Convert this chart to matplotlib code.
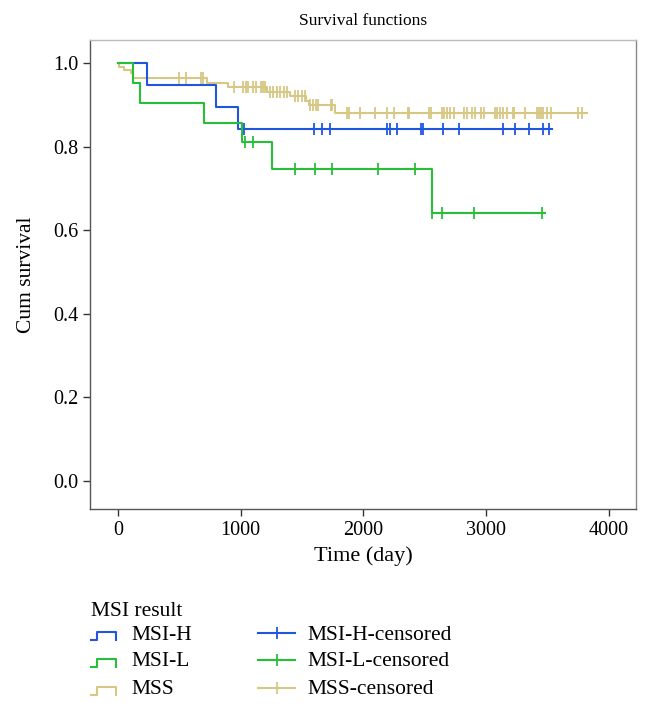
import numpy as np
import matplotlib
matplotlib.use("Agg")
import matplotlib.pyplot as plt
from matplotlib.lines import Line2D

plt.rcParams['font.family'] = ['Liberation Serif', 'DejaVu Serif']

# --- data ---
groups = ['MSI-H', 'MSI-L', 'MSS']
colors = ['#1f56e0', '#28bf38', '#d6c782']

# event times (day) and survival level after each event
msih_times = [239, 798, 977]
msih_surv = [0.947, 0.895, 0.842]
msih_cens = [1026, 1600, 1665, 1727, 2194, 2216, 2270, 2468, 2487, 2645,
             2778, 3139, 3237, 3345, 3460, 3509]
msih_end = 3535

msil_times = [120, 179, 700, 1010, 1254, 2561]
msil_surv = [0.952, 0.905, 0.857, 0.810, 0.746, 0.640]
msil_cens = [1032, 1103, 1440, 1608, 1746, 2121, 2420, 2561, 2640, 2898, 3457]
msil_end = 3479

mss_times = [10, 50, 110, 125, 722, 899, 1211, 1401, 1530, 1556, 1768]
mss_surv = [0.990, 0.983, 0.975, 0.963, 0.953, 0.942, 0.931, 0.921, 0.910,
            0.899, 0.881]
mss_cens = [500, 557, 675, 695, 945, 1021, 1040, 1062, 1103, 1124, 1162, 1184,
            1198, 1238, 1265, 1293, 1320, 1352, 1379, 1442, 1469, 1497, 1523,
            1564, 1591, 1613, 1627, 1733, 1746, 1863, 1884, 1972, 2094, 2194,
            2248, 2365, 2373, 2534, 2547, 2642, 2656, 2683, 2705, 2737, 2819,
            2841, 2881, 2908, 2955, 2982, 3071, 3090, 3112, 3139, 3167, 3215,
            3226, 3316, 3416, 3430, 3443, 3465, 3492, 3525, 3750, 3778]
mss_end = 3818

xticks = [0, 1000, 2000, 3000, 4000]
yticks = [0.0, 0.2, 0.4, 0.6, 0.8, 1.0]

data = [(msih_times, msih_surv, msih_cens, msih_end),
        (msil_times, msil_surv, msil_cens, msil_end),
        (mss_times, mss_surv, mss_cens, mss_end)]

W, H = 648, 713
fig = plt.figure(figsize=(W / 100, H / 100), dpi=100)
ax = fig.add_axes([90 / W, 1 - 509 / H, 546 / W, 469 / H])

# draw MSS first so the others sit on top
for i in [2, 0, 1]:
    t, s, c, end = data[i]
    x = [0] + t + [end]
    y = [1.0] + s + [s[-1]]
    ax.step(x, y, where='post', color=colors[i], lw=1.5)
    idx = np.searchsorted(t, c, side='right')
    levels = np.concatenate([[1.0], s])[idx]
    ax.plot(c, levels, ls='none', marker='|', ms=8, mew=1.3, color=colors[i])

ax.set_xlim(-228, 4220)
ax.set_ylim(-0.067, 1.055)
ax.set_xticks(xticks)
ax.set_yticks(yticks)
ax.set_yticklabels(['%.1f' % v for v in yticks])
ax.tick_params(labelsize=14.5, length=5, width=1, color='#333333', direction='out')
for sp in ax.spines.values():
    sp.set_color('#555555')
    sp.set_linewidth(1)
ax.spines['top'].set_color('#bbbbbb')
ax.spines['right'].set_color('#888888')

ax.set_title('Survival functions', fontsize=12.5, pad=11)
ax.set_xlabel('Time (day)', fontsize=16, labelpad=5)
ax.set_ylabel('Cum survival', fontsize=15.5, labelpad=12)

# --- legend drawn below the axes ---
def fx(px):
    return px / W

def fy(py):
    return 1 - py / H

fs = 15.5
fig.text(fx(91), fy(611), 'MSI result', fontsize=fs, va='center', ha='left')
rows = [635, 662, 690]
for i, g in enumerate(groups):
    yc = rows[i]
    gx = [91, 97, 97, 116, 116]
    gy = [yc + 5, yc + 5, yc - 3, yc - 3, yc + 5]
    fig.add_artist(Line2D([fx(v) for v in gx], [fy(v) for v in gy],
                          color=colors[i], lw=1.5))
    fig.text(fx(131), fy(yc), g, fontsize=fs, va='center', ha='left')
    fig.add_artist(Line2D([fx(258), fx(295)], [fy(yc - 2), fy(yc - 2)],
                          color=colors[i], lw=1.5))
    fig.add_artist(Line2D([fx(276.5)], [fy(yc - 2)], marker='|', ms=8,
                          mew=1.3, color=colors[i]))
    fig.text(fx(307), fy(yc), g + '-censored', fontsize=fs, va='center',
             ha='left')

fig.savefig('out.png', dpi=100)
